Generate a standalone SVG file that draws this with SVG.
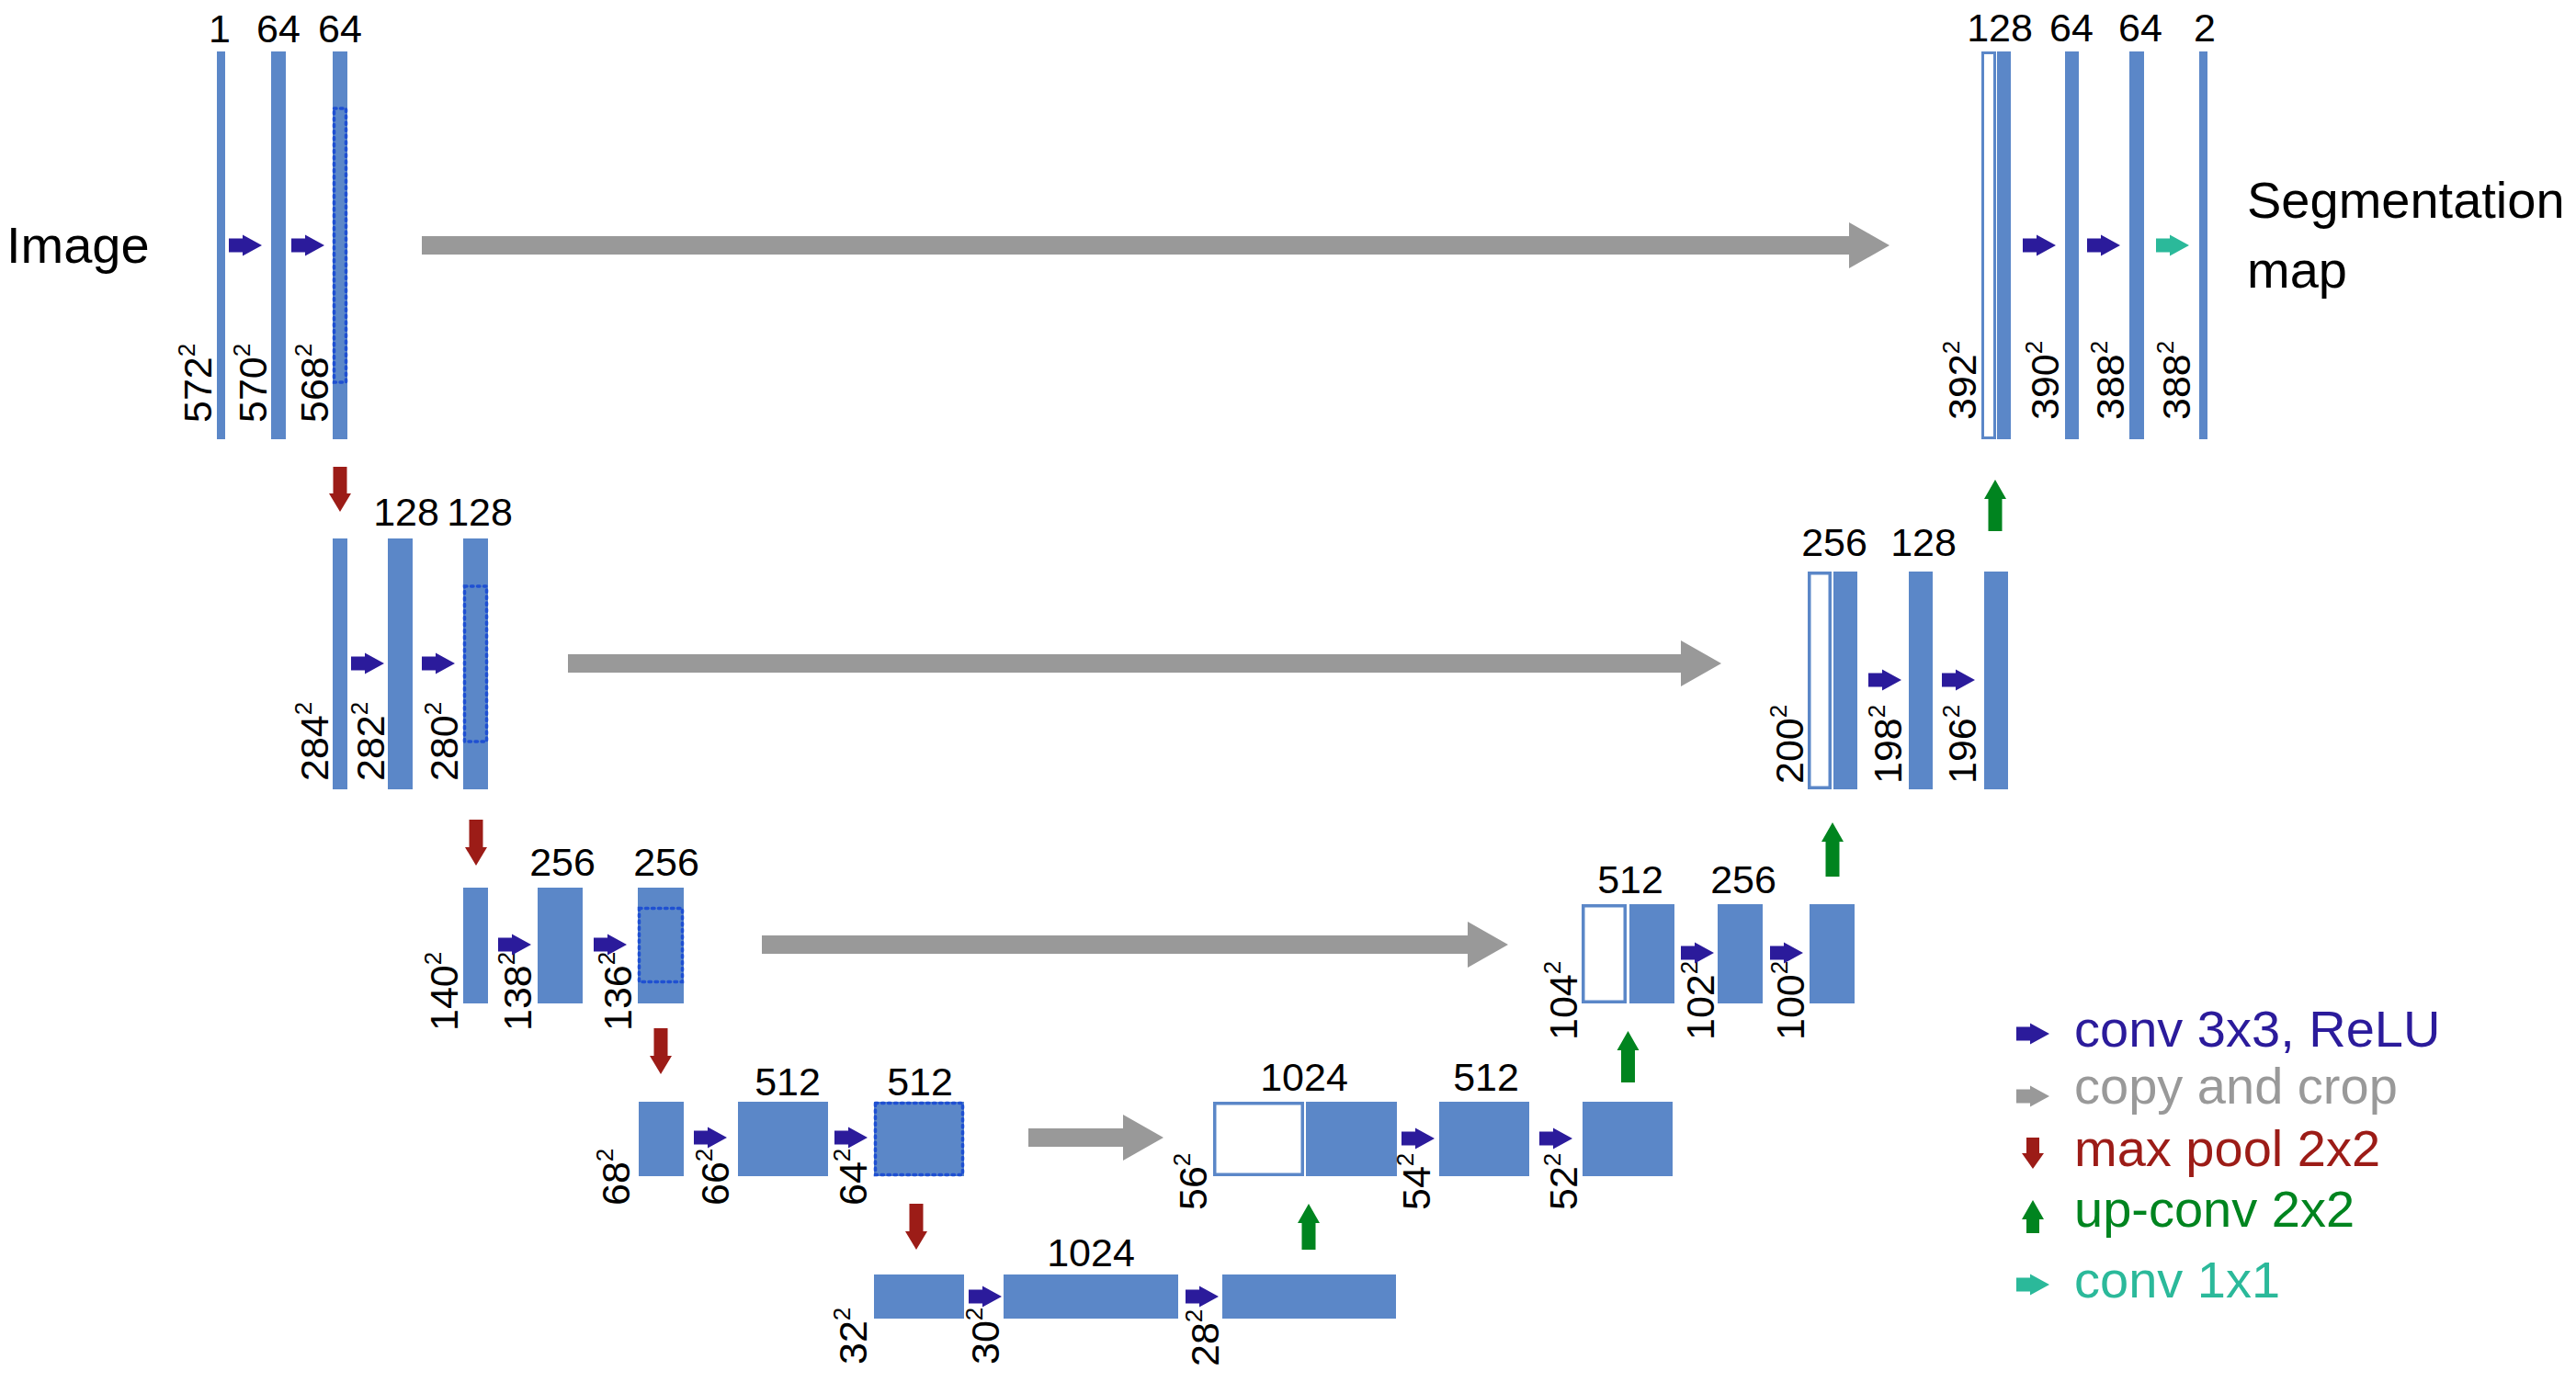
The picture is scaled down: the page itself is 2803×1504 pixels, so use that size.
<svg xmlns="http://www.w3.org/2000/svg" xmlns:xlink="http://www.w3.org/1999/xlink" width="2803" height="1504" viewBox="0 0 2803 1504">
<style>
.bar{fill:#5b87c8}
.hollow{fill:#fff;stroke:#5b87c8;stroke-width:3.5}
.crop{fill:none;stroke:#1f50d2;stroke-width:3.5;stroke-dasharray:2.5 4.5;stroke-linecap:round}
text{font-family:"Liberation Sans",Arial,sans-serif;fill:#000}
.ch{font-size:43px;text-anchor:middle}
.dim{font-size:43px}
.sup{font-size:26px}
.conv{fill:#2b1b9b}
.copy{fill:#999999}
.pool{fill:#9c1c17}
.up{fill:#00841f}
.c11{fill:#2bb99a}
.big{font-size:56px}
</style>
<defs>
<path id="ca" d="M0,-7.5H15V-11.5L36,0L15,11.5V7.5H0Z"/>
</defs>
<rect width="2803" height="1504" fill="#fff"/>

<text class="big" x="7" y="286">Image</text>
<text class="big" x="2445" y="237">Segmentation</text>
<text class="big" x="2445" y="313">map</text>

<!-- Row 1 left -->
<g id="n1a"><rect class="bar" x="236" y="56" width="9" height="422"/><text class="ch" x="239" y="46">1</text><text class="dim" transform="translate(230 460) rotate(-90)">572<tspan class="sup" dy="-18">2</tspan></text></g>
<g id="n1b"><rect class="bar" x="295" y="56" width="16" height="422"/><text class="ch" x="303" y="46">64</text><text class="dim" transform="translate(290 460) rotate(-90)">570<tspan class="sup" dy="-18">2</tspan></text></g>
<g id="n1c"><rect class="bar" x="362" y="56" width="16" height="422"/><rect class="crop" x="363.5" y="118" width="13" height="298"/><text class="ch" x="370" y="46">64</text><text class="dim" transform="translate(357 460) rotate(-90)">568<tspan class="sup" dy="-18">2</tspan></text></g>

<!-- Row 2 left -->
<g id="n2a"><rect class="bar" x="362" y="586" width="16" height="273"/><text class="dim" transform="translate(357 850) rotate(-90)">284<tspan class="sup" dy="-18">2</tspan></text></g>
<g id="n2b"><rect class="bar" x="422" y="586" width="27" height="273"/><text class="ch" x="442" y="572">128</text><text class="dim" transform="translate(418 850) rotate(-90)">282<tspan class="sup" dy="-18">2</tspan></text></g>
<g id="n2c"><rect class="bar" x="504" y="586" width="27" height="273"/><rect class="crop" x="505.5" y="638" width="24" height="169"/><text class="ch" x="522" y="572">128</text><text class="dim" transform="translate(498 850) rotate(-90)">280<tspan class="sup" dy="-18">2</tspan></text></g>

<!-- Row 3 left -->
<g id="n3a"><rect class="bar" x="504" y="966" width="27" height="126"/><text class="dim" transform="translate(498 1122) rotate(-90)">140<tspan class="sup" dy="-18">2</tspan></text></g>
<g id="n3b"><rect class="bar" x="585" y="966" width="49" height="126"/><text class="ch" x="612" y="953">256</text><text class="dim" transform="translate(578 1122) rotate(-90)">138<tspan class="sup" dy="-18">2</tspan></text></g>
<g id="n3c"><rect class="bar" x="694" y="966" width="50" height="126"/><rect class="crop" x="695.5" y="988.5" width="47" height="80"/><text class="ch" x="725" y="953">256</text><text class="dim" transform="translate(687 1122) rotate(-90)">136<tspan class="sup" dy="-18">2</tspan></text></g>

<!-- Row 4 left -->
<g id="n4a"><rect class="bar" x="695" y="1199" width="49" height="81"/><text class="dim" transform="translate(685 1312) rotate(-90)">68<tspan class="sup" dy="-18">2</tspan></text></g>
<g id="n4b"><rect class="bar" x="803" y="1199" width="98" height="81"/><text class="ch" x="857" y="1192">512</text><text class="dim" transform="translate(793 1312) rotate(-90)">66<tspan class="sup" dy="-18">2</tspan></text></g>
<g id="n4c"><rect class="bar" x="951" y="1199" width="98" height="81"/><rect class="crop" x="952.5" y="1200.5" width="95" height="78"/><text class="ch" x="1001" y="1192">512</text><text class="dim" transform="translate(943 1312) rotate(-90)">64<tspan class="sup" dy="-18">2</tspan></text></g>

<!-- Row 5 -->
<g id="n5a"><rect class="bar" x="951" y="1387" width="98" height="48"/><text class="dim" transform="translate(943 1485) rotate(-90)">32<tspan class="sup" dy="-18">2</tspan></text></g>
<g id="n5b"><rect class="bar" x="1092" y="1387" width="190" height="48"/><text class="ch" x="1187" y="1378">1024</text><text class="dim" transform="translate(1087 1485) rotate(-90)">30<tspan class="sup" dy="-18">2</tspan></text></g>
<g id="n5c"><rect class="bar" x="1330" y="1387" width="189" height="48"/><text class="dim" transform="translate(1326 1487) rotate(-90)">28<tspan class="sup" dy="-18">2</tspan></text></g>

<!-- Row 4 right -->
<g id="n6a"><rect class="hollow" x="1321.75" y="1200.75" width="95.5" height="77.5"/><rect class="bar" x="1421" y="1199" width="99" height="81"/><text class="ch" x="1419" y="1187">1024</text><text class="dim" transform="translate(1313 1317) rotate(-90)">56<tspan class="sup" dy="-18">2</tspan></text></g>
<g id="n6b"><rect class="bar" x="1566" y="1199" width="98" height="81"/><text class="ch" x="1617" y="1187">512</text><text class="dim" transform="translate(1556 1317) rotate(-90)">54<tspan class="sup" dy="-18">2</tspan></text></g>
<g id="n6c"><rect class="bar" x="1722" y="1199" width="98" height="81"/><text class="dim" transform="translate(1716 1317) rotate(-90)">52<tspan class="sup" dy="-18">2</tspan></text></g>

<!-- Row 3 right -->
<g id="n7a"><rect class="hollow" x="1722.75" y="985.75" width="45.5" height="104.5"/><rect class="bar" x="1773" y="984" width="49" height="108"/><text class="ch" x="1774" y="972">512</text><text class="dim" transform="translate(1716 1132) rotate(-90)">104<tspan class="sup" dy="-18">2</tspan></text></g>
<g id="n7b"><rect class="bar" x="1869" y="984" width="49" height="108"/><text class="ch" x="1897" y="972">256</text><text class="dim" transform="translate(1865 1132) rotate(-90)">102<tspan class="sup" dy="-18">2</tspan></text></g>
<g id="n7c"><rect class="bar" x="1969" y="984" width="49" height="108"/><text class="dim" transform="translate(1963 1132) rotate(-90)">100<tspan class="sup" dy="-18">2</tspan></text></g>

<!-- Row 2 right -->
<g id="n8a"><rect class="hollow" x="1968.75" y="623.75" width="22.5" height="233.5"/><rect class="bar" x="1995" y="622" width="26" height="237"/><text class="ch" x="1996" y="605">256</text><text class="dim" transform="translate(1962 853) rotate(-90)">200<tspan class="sup" dy="-18">2</tspan></text></g>
<g id="n8b"><rect class="bar" x="2077" y="622" width="26" height="237"/><text class="ch" x="2093" y="605">128</text><text class="dim" transform="translate(2069 853) rotate(-90)">198<tspan class="sup" dy="-18">2</tspan></text></g>
<g id="n8c"><rect class="bar" x="2159" y="622" width="26" height="237"/><text class="dim" transform="translate(2150 853) rotate(-90)">196<tspan class="sup" dy="-18">2</tspan></text></g>

<!-- Row 1 right -->
<g id="n9a"><rect class="hollow" x="2157.5" y="57.5" width="13" height="419" style="stroke-width:3"/><rect class="bar" x="2173" y="56" width="15" height="422"/><text class="ch" x="2176" y="45">128</text><text class="dim" transform="translate(2150 457) rotate(-90)">392<tspan class="sup" dy="-18">2</tspan></text></g>
<g id="n9b"><rect class="bar" x="2247" y="56" width="15" height="422"/><text class="ch" x="2254" y="45">64</text><text class="dim" transform="translate(2240 457) rotate(-90)">390<tspan class="sup" dy="-18">2</tspan></text></g>
<g id="n9c"><rect class="bar" x="2317" y="56" width="16" height="422"/><text class="ch" x="2329" y="45">64</text><text class="dim" transform="translate(2311 457) rotate(-90)">388<tspan class="sup" dy="-18">2</tspan></text></g>
<g id="n9d"><rect class="bar" x="2393" y="56" width="9" height="422"/><text class="ch" x="2399" y="45">2</text><text class="dim" transform="translate(2383 457) rotate(-90)">388<tspan class="sup" dy="-18">2</tspan></text></g>

<g id="connectors">
<!-- conv 3x3 -->
<use xlink:href="#ca" href="#ca" class="conv" x="249" y="267"/>
<use xlink:href="#ca" href="#ca" class="conv" x="317" y="267"/>
<use xlink:href="#ca" href="#ca" class="conv" x="382" y="722"/>
<use xlink:href="#ca" href="#ca" class="conv" x="459" y="722"/>
<use xlink:href="#ca" href="#ca" class="conv" x="542" y="1028"/>
<use xlink:href="#ca" href="#ca" class="conv" x="646" y="1028"/>
<use xlink:href="#ca" href="#ca" class="conv" x="755" y="1238"/>
<use xlink:href="#ca" href="#ca" class="conv" x="908" y="1238"/>
<use xlink:href="#ca" href="#ca" class="conv" x="1054" y="1411"/>
<use xlink:href="#ca" href="#ca" class="conv" x="1290" y="1411"/>
<use xlink:href="#ca" href="#ca" class="conv" x="1525" y="1239"/>
<use xlink:href="#ca" href="#ca" class="conv" x="1675" y="1239"/>
<use xlink:href="#ca" href="#ca" class="conv" x="1829" y="1037"/>
<use xlink:href="#ca" href="#ca" class="conv" x="1926" y="1037"/>
<use xlink:href="#ca" href="#ca" class="conv" x="2033" y="740"/>
<use xlink:href="#ca" href="#ca" class="conv" x="2113" y="740"/>
<use xlink:href="#ca" href="#ca" class="conv" x="2201" y="267"/>
<use xlink:href="#ca" href="#ca" class="conv" x="2271" y="267"/>
<use xlink:href="#ca" href="#ca" class="c11" x="2346" y="267"/>
<!-- copy and crop -->
<path class="copy" d="M459,257H2012V242L2056,267L2012,292V277H459Z"/>
<path class="copy" d="M618,712H1829V697L1873,722L1829,747V732H618Z"/>
<path class="copy" d="M829,1018H1597V1003L1641,1028L1597,1053V1038H829Z"/>
<path class="copy" d="M1119,1228H1222V1213L1266,1238L1222,1263V1248H1119Z"/>
<!-- max pool -->
<path class="pool" d="M362.5,508H377.5V537H382L370,557L358,537H362.5Z"/>
<path class="pool" d="M510.5,892H525.5V922H530L518,942L506,922H510.5Z"/>
<path class="pool" d="M711.5,1119H726.5V1149H731L719,1169L707,1149H711.5Z"/>
<path class="pool" d="M989.5,1310H1004.5V1340H1009L997,1360L985,1340H989.5Z"/>
<!-- up-conv -->
<path class="up" d="M1416.5,1360H1431.5V1331H1436L1424,1310L1412,1331H1416.5Z"/>
<path class="up" d="M1764,1178H1779V1143H1783.5L1771.5,1122L1759.5,1143H1764Z"/>
<path class="up" d="M1986.5,954H2001.5V916H2006L1994,895L1982,916H1986.5Z"/>
<path class="up" d="M2163.5,578H2178.5V543H2183L2171,522L2159,543H2163.5Z"/>
</g>

<g id="legend">
<use xlink:href="#ca" href="#ca" class="conv" x="2194" y="1125"/>
<use xlink:href="#ca" href="#ca" class="copy" x="2194" y="1193"/>
<path class="pool" d="M2205,1238H2219V1255H2224L2212,1272L2200,1255H2205Z"/>
<path class="up" d="M2205,1342H2219V1327H2224L2212,1306L2200,1327H2205Z"/>
<use xlink:href="#ca" href="#ca" class="c11" x="2194" y="1398"/>
<text class="big conv" x="2257" y="1139">conv 3x3, ReLU</text>
<text class="big copy" x="2257" y="1201">copy and crop</text>
<text class="big pool" x="2257" y="1269">max pool 2x2</text>
<text class="big up" x="2257" y="1335">up-conv 2x2</text>
<text class="big c11" x="2257" y="1412">conv 1x1</text>
</g>
</svg>
